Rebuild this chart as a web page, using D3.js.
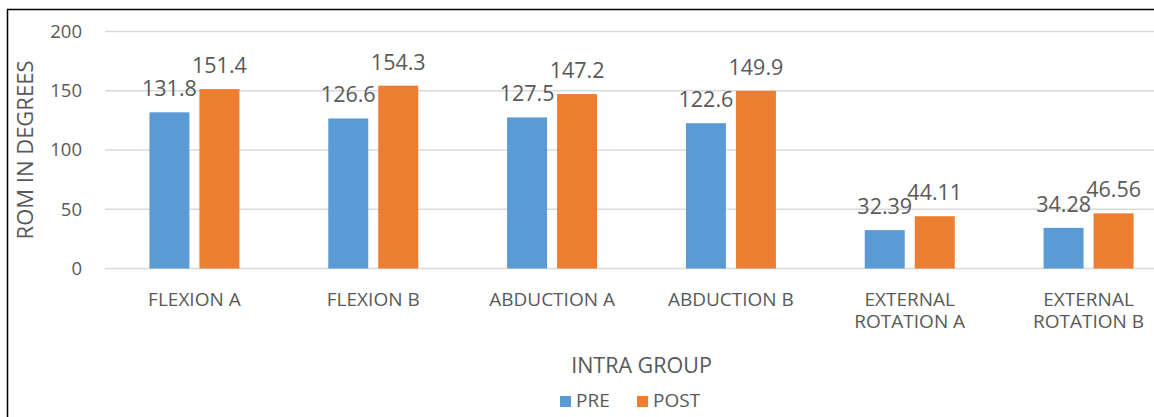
<!DOCTYPE html>
<html>
<head>
<meta charset="utf-8">
<script src="https://cdn.jsdelivr.net/npm/d3@7"></script>
<style>
  body { margin: 0; background: #fff; }
  svg text { font-family: "Open Sans", sans-serif; fill: #595959; }
</style>
</head>
<body>
<div id="chart"></div>
<script>
"use strict";

var categories = [["FLEXION A"], ["FLEXION B"], ["ABDUCTION A"], ["ABDUCTION B"],
                  ["EXTERNAL", "ROTATION A"], ["EXTERNAL", "ROTATION B"]];
var seriesNames = ["PRE", "POST"];
var preValues = [131.8, 126.6, 127.5, 122.6, 32.39, 34.28];
var postValues = [151.4, 154.3, 147.2, 149.9, 44.11, 46.56];
var yTicks = [0, 50, 100, 150, 200];
var colors = ["#5b9bd5", "#ed7d31"];

window.addEventListener('load', function () {
	var width = 1154, height = 417;
	var svg = d3.select("#chart").append("svg")
		.attr("width", width)
		.attr("height", height);

	// chart border (cropped on right and bottom)
	svg.append("path")
		.attr("d", "M7.5,417 V9.5 H1154")
		.attr("fill", "none")
		.attr("stroke", "#000")
		.attr("stroke-width", 1.5);

	var keys = categories.map(function (c) { return c.join(" "); });
	var x0 = d3.scaleBand().domain(keys).range([105, 1178]);
	var bw = x0.bandwidth();
	var x1 = d3.scaleBand().domain(seriesNames)
		.range([bw / 2 - 45, bw / 2 + 45]).paddingInner(0.2);
	var y = d3.scaleLinear().domain([0, 200]).range([268.5, 31.5]);

	// gridlines
	svg.append("g").selectAll("line")
		.data(yTicks)
		.enter().append("line")
		.attr("x1", 105).attr("x2", 1178)
		.attr("y1", function (d) { return y(d); })
		.attr("y2", function (d) { return y(d); })
		.attr("stroke", "#d9d9d9")
		.attr("stroke-width", 1.5);

	// y axis labels
	var yAxis = svg.append("g")
		.attr("transform", "translate(90,0)")
		.call(d3.axisLeft(y).tickValues(yTicks).tickSize(0).tickPadding(8));
	yAxis.select(".domain").remove();
	yAxis.selectAll("text")
		.attr("font-size", "18.5px")
		.attr("font-family", "Open Sans")
		.style("fill", "#595959");

	var rows = keys.map(function (k, i) {
		return { key: k, lines: categories[i], values: [preValues[i], postValues[i]] };
	});

	var groups = svg.append("g").selectAll("g")
		.data(rows)
		.enter().append("g")
		.attr("transform", function (d) { return "translate(" + x0(d.key) + ",0)"; });

	groups.selectAll("rect")
		.data(function (d) { return d.values.map(function (v, j) { return { s: seriesNames[j], v: v, j: j }; }); })
		.enter().append("rect")
		.attr("x", function (d) { return x1(d.s); })
		.attr("width", x1.bandwidth())
		.attr("y", function (d) { return y(d.v); })
		.attr("height", function (d) { return y(0) - y(d.v); })
		.attr("fill", function (d) { return colors[d.j]; });

	groups.selectAll("text.val")
		.data(function (d) { return d.values.map(function (v, j) { return { s: seriesNames[j], v: v }; }); })
		.enter().append("text")
		.attr("class", "val")
		.attr("x", function (d) { return x1(d.s) + x1.bandwidth() / 2; })
		.attr("y", function (d) { return y(d.v) - 16; })
		.attr("text-anchor", "middle")
		.attr("font-size", "21.5px")
		.text(function (d) { return d.v; });

	// category labels
	groups.append("text")
		.attr("x", bw / 2)
		.attr("text-anchor", "middle")
		.attr("font-size", "19px")
		.selectAll("tspan")
		.data(function (d) { return d.lines; })
		.enter().append("tspan")
		.attr("x", bw / 2)
		.attr("y", function (d, i) { return 306 + i * 21.5; })
		.text(function (d) { return d; });

	// axis titles
	svg.append("text")
		.attr("x", (105 + 1178) / 2)
		.attr("y", 373)
		.attr("text-anchor", "middle")
		.attr("font-size", "21.5px")
		.text("INTRA GROUP");

	svg.append("text")
		.attr("transform", "translate(33,150) rotate(-90)")
		.attr("text-anchor", "middle")
		.attr("font-size", "22px")
		.text("ROM IN DEGREES");

	// legend
	var legend = svg.append("g");
	var legendX = [560, 637];
	seriesNames.forEach(function (name, i) {
		legend.append("rect")
			.attr("x", legendX[i]).attr("y", 396)
			.attr("width", 11).attr("height", 11)
			.attr("fill", colors[i]);
		legend.append("text")
			.attr("x", legendX[i] + 16).attr("y", 407)
			.attr("font-size", "19px")
			.text(name);
	});
});
</script>
</body>
</html>
